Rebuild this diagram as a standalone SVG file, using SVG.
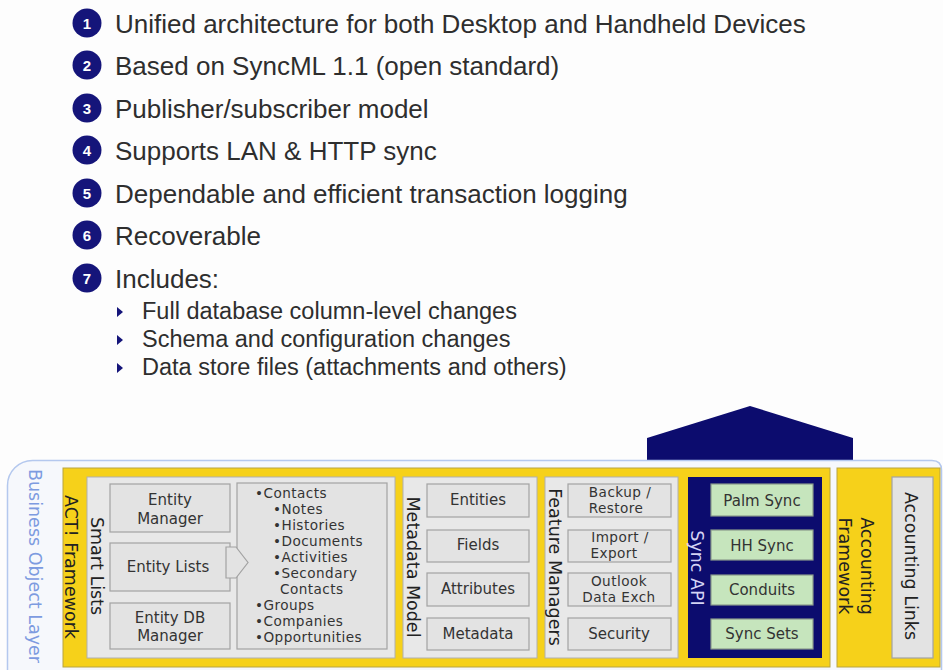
<svg xmlns="http://www.w3.org/2000/svg" width="943" height="670" viewBox="0 0 943 670">
<defs>
<style>
.bg{fill:#fdfdfd}
.main{font-family:"Liberation Sans",Arial,sans-serif;font-size:26px;fill:#2e2e2e}
.sub{font-family:"Liberation Sans",Arial,sans-serif;font-size:23.5px;fill:#2e2e2e}
.num{font-family:"Liberation Sans",Arial,sans-serif;font-weight:bold;font-size:15px;fill:#ffffff;text-anchor:middle}
.circ{fill:#15157a}
.tri{fill:#15157a}
.lbl{font-family:"DejaVu Sans",Verdana,sans-serif;font-size:15px;fill:#333333}
.tight{font-size:13.6px;letter-spacing:0.45px}
.mid{text-anchor:middle}
.vl{font-family:"DejaVu Sans",Verdana,sans-serif;font-size:17.5px;fill:#222222;text-anchor:middle}
.yellow{fill:#f6d11a;stroke:#b8a440;stroke-width:1}
.panel{fill:#e8e8e8;stroke:#b0b0b0;stroke-width:1}
.box{fill:#e3e3e3;stroke:#a2a2a2;stroke-width:1.2}
.green{fill:#c6e5bd;stroke:#8a9a8a;stroke-width:1.2}
.navy{fill:#0c0c6e}
</style>
</defs>
<rect class="bg" x="0" y="0" width="943" height="670"/>

<g id="feature-list">
  <g id="item1"><circle class="circ" cx="87" cy="23" r="14.5"/><text class="num" x="87" y="28.5">1</text><text class="main" x="115" y="33">Unified architecture for both Desktop and Handheld Devices</text></g>
  <g id="item2"><circle class="circ" cx="87" cy="65" r="14.5"/><text class="num" x="87" y="70.5">2</text><text class="main" x="115" y="75">Based on SyncML 1.1 (open standard)</text></g>
  <g id="item3"><circle class="circ" cx="87" cy="108" r="14.5"/><text class="num" x="87" y="113.5">3</text><text class="main" x="115" y="118">Publisher/subscriber model</text></g>
  <g id="item4"><circle class="circ" cx="87" cy="150" r="14.5"/><text class="num" x="87" y="155.5">4</text><text class="main" x="115" y="160">Supports LAN &amp; HTTP sync</text></g>
  <g id="item5"><circle class="circ" cx="87" cy="193" r="14.5"/><text class="num" x="87" y="198.5">5</text><text class="main" x="115" y="203">Dependable and efficient transaction logging</text></g>
  <g id="item6"><circle class="circ" cx="87" cy="235" r="14.5"/><text class="num" x="87" y="240.5">6</text><text class="main" x="115" y="245">Recoverable</text></g>
  <g id="item7"><circle class="circ" cx="87" cy="278" r="14.5"/><text class="num" x="87" y="283.5">7</text><text class="main" x="115" y="288">Includes:</text></g>
  <g id="sub1"><polygon class="tri" points="117,307 123,312 117,317"/><text class="sub" x="142" y="319">Full database column-level changes</text></g>
  <g id="sub2"><polygon class="tri" points="117,335 123,340 117,345"/><text class="sub" x="142" y="347">Schema and configuration changes</text></g>
  <g id="sub3"><polygon class="tri" points="117,363 123,368 117,373"/><text class="sub" x="142" y="375">Data store files (attachments and others)</text></g>
</g>

<g id="sync-roof">
  <polygon class="navy" points="647,461 647,438 750,406 853,438 853,461"/>
</g>

<g id="business-object-layer">
  <path d="M 32.5,460.5 H 932 Q 941.5,460.5 941.5,470 V 690 H 7.5 V 485.5 A 25 25 0 0 1 32.5,460.5 Z" fill="#f6f8fc" stroke="#b4c8ee" stroke-width="1.5"/>
  <text class="vl" transform="translate(35 566) rotate(90)" dy=".35em" style="fill:#7d9be0">Business Object Layer</text>
</g>

<g id="act-framework">
  <rect class="yellow" x="63" y="468" width="767" height="199"/>
  <text class="vl" transform="translate(71 567) rotate(90)" dy=".35em">ACT! Framework</text>
</g>

<g id="smart-lists">
  <rect class="panel" x="87" y="477" width="308" height="181"/>
  <text class="vl" transform="translate(97 566) rotate(90)" dy=".35em">Smart Lists</text>
</g>
<g id="entity-manager">
  <rect class="box" x="110" y="484" width="120" height="48"/>
  <text class="lbl mid" x="170" y="505">Entity</text>
  <text class="lbl mid" x="170" y="524">Manager</text>
</g>
<g id="entity-lists">
  <rect class="box" x="110" y="543" width="120" height="48"/>
  <text class="lbl mid" x="168" y="572">Entity Lists</text>
</g>
<g id="entity-db-manager">
  <rect class="box" x="110" y="603" width="120" height="46"/>
  <text class="lbl mid" x="170" y="623">Entity DB</text>
  <text class="lbl mid" x="170" y="641">Manager</text>
</g>
<g id="entity-types">
  <rect class="box" x="237" y="483" width="150" height="166"/>
  <text class="lbl tight" x="255" y="498">•Contacts</text>
  <text class="lbl tight" x="273" y="514">•Notes</text>
  <text class="lbl tight" x="273" y="530">•Histories</text>
  <text class="lbl tight" x="273" y="546">•Documents</text>
  <text class="lbl tight" x="273" y="562">•Activities</text>
  <text class="lbl tight" x="273" y="578">•Secondary</text>
  <text class="lbl tight" x="280" y="594">Contacts</text>
  <text class="lbl tight" x="255" y="610">•Groups</text>
  <text class="lbl tight" x="255" y="626">•Companies</text>
  <text class="lbl tight" x="255" y="642">•Opportunities</text>
</g>

<g id="metadata-model">
  <rect class="panel" x="403" y="477" width="134" height="181"/>
  <text class="vl" transform="translate(413 567) rotate(90)" dy=".35em">Metadata Model</text>
</g>
<g id="md-entities"><rect class="box" x="427" y="484" width="102" height="33"/><text class="lbl mid" x="478" y="505">Entities</text></g>
<g id="md-fields"><rect class="box" x="427" y="530" width="102" height="32"/><text class="lbl mid" x="478" y="550">Fields</text></g>
<g id="md-attributes"><rect class="box" x="427" y="573" width="102" height="33"/><text class="lbl mid" x="478" y="594">Attributes</text></g>
<g id="md-metadata"><rect class="box" x="427" y="618" width="102" height="32"/><text class="lbl mid" x="478" y="639">Metadata</text></g>

<g id="feature-managers">
  <rect class="panel" x="545" y="477" width="133" height="181"/>
  <text class="vl" transform="translate(555 567) rotate(90)" dy=".35em">Feature Managers</text>
</g>
<g id="fm-backup"><rect class="box" x="568" y="484" width="103" height="33"/><text class="lbl tight mid" x="620" y="497">Backup /</text><text class="lbl tight mid" x="616" y="513">Restore</text></g>
<g id="fm-import"><rect class="box" x="568" y="530" width="103" height="32"/><text class="lbl tight mid" x="620" y="542">Import /</text><text class="lbl tight mid" x="614" y="558">Export</text></g>
<g id="fm-outlook"><rect class="box" x="568" y="573" width="103" height="33"/><text class="lbl tight mid" x="619" y="586">Outlook</text><text class="lbl tight mid" x="619" y="602">Data Exch</text></g>
<g id="fm-security"><rect class="box" x="568" y="618" width="103" height="32"/><text class="lbl mid" x="619" y="639">Security</text></g>

<g id="sync-api">
  <rect class="navy" x="688" y="477" width="134" height="181"/>
  <text class="vl" transform="translate(697 568) rotate(90)" dy=".35em" style="fill:#d4d4f4">Sync API</text>
</g>
<g id="palm-sync"><rect class="green" x="711" y="484" width="102" height="32"/><text class="lbl mid" x="762" y="506">Palm Sync</text></g>
<g id="hh-sync"><rect class="green" x="711" y="530" width="102" height="30"/><text class="lbl mid" x="762" y="551">HH Sync</text></g>
<g id="conduits"><rect class="green" x="711" y="575" width="102" height="30"/><text class="lbl mid" x="762" y="595">Conduits</text></g>
<g id="sync-sets"><rect class="green" x="711" y="619" width="102" height="30"/><text class="lbl mid" x="762" y="639">Sync Sets</text></g>

<g id="accounting-framework">
  <rect class="yellow" x="837" y="468" width="103" height="199"/>
  <text class="vl" transform="translate(867 566) rotate(90)" dy=".35em">Accounting</text>
  <text class="vl" transform="translate(845 566) rotate(90)" dy=".35em">Framework</text>
</g>
<g id="accounting-links">
  <rect class="box" x="892" y="477" width="41" height="181"/>
  <text class="vl" transform="translate(911 566) rotate(90)" dy=".35em">Accounting Links</text>
</g>

<g id="connectors">
  <polygon points="226,547 236,547 248,562.5 236,578 226,578" fill="#e3e3e3" stroke="#a2a2a2" stroke-width="1.2"/>
</g>
</svg>
